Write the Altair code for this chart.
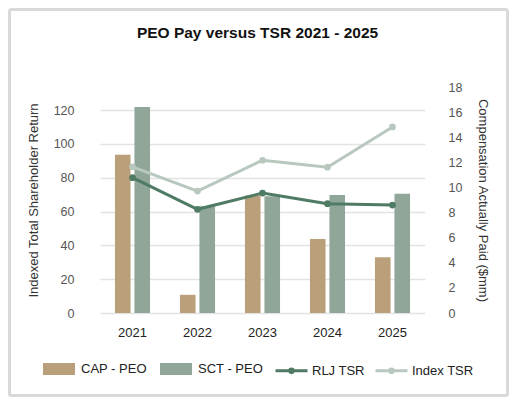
import altair as alt
import pandas as pd

years = ["2021", "2022", "2023", "2024", "2025"]
cap_peo = [12.6, 1.45, 9.35, 5.9, 4.45]
sct_peo = [16.4, 8.5, 9.3, 9.4, 9.5]
rlj_tsr = [80.0, 61.3, 70.9, 64.6, 63.8]
index_tsr = [86.4, 72.1, 90.3, 86.2, 110.0]

bar_series = ["CAP - PEO", "SCT - PEO"]
bar_colors = ["#B9A07A", "#8FA699"]
line_series = ["RLJ TSR", "Index TSR"]
line_colors = ["#4F7B64", "#B8C8BF"]

FONT = "Liberation Sans"
W, H = 325, 226

bars = pd.DataFrame(
    {
        "year": years * 2,
        "series": [bar_series[0]] * 5 + [bar_series[1]] * 5,
        "value": cap_peo + sct_peo,
    }
)
lines = pd.DataFrame(
    {
        "year": years * 2,
        "series": [line_series[0]] * 5 + [line_series[1]] * 5,
        "value": rlj_tsr + index_tsr,
    }
)

rect_symbol = "M-1,-0.375H1V0.375H-1Z"
line_symbol = "M-1,0H1M0.11,0A0.11,0.11,0,1,1,-0.11,0A0.11,0.11,0,1,1,0.11,0"

x_axis = alt.Axis(
    title=None, labelAngle=0, ticks=False, domain=False,
    labelPadding=13, labelFontSize=13, labelColor="#222", labelFont=FONT,
)
x_scale = alt.Scale(paddingInner=0.46, paddingOuter=0.23)

# outer frame round the whole picture
frame = (
    alt.Chart(pd.DataFrame({"a": [0]}))
    .mark_rect(fill="transparent", stroke="#d9d9d9", strokeWidth=3, cornerRadius=2)
    .encode(
        x=alt.value(-90.5), x2=alt.value(W + 82.5),
        y=alt.value(-77.5), y2=alt.value(H + 82.5),
    )
)

bar_chart = (
    alt.Chart(bars)
    .mark_bar()
    .encode(
        x=alt.X("year:N", sort=years, scale=x_scale, axis=x_axis),
        xOffset=alt.XOffset("series:N", sort=bar_series,
                            scale=alt.Scale(paddingInner=0.2)),
        y=alt.Y(
            "value:Q",
            scale=alt.Scale(domain=[0, 18], nice=False),
            axis=alt.Axis(
                orient="right", title="Compensation Actually Paid ($mm)",
                values=list(range(0, 19, 2)), grid=False, ticks=False,
                domain=False, labelPadding=23, labelFontSize=12.5,
                labelColor="#555", labelFont=FONT, titleFont=FONT,
                titleFontSize=13, titleFontWeight="normal", titleColor="#333",
                titlePadding=14,
            ),
        ),
        color=alt.Color(
            "series:N",
            scale=alt.Scale(domain=bar_series, range=bar_colors),
            legend=alt.Legend(
                title=None, orient="none", legendX=-57, legendY=266,
                direction="horizontal", symbolType=rect_symbol,
                symbolSize=1024, symbolStrokeWidth=0, labelOffset=6,
                columnPadding=13, padding=0, labelFontSize=13,
                labelColor="#222", labelFont=FONT,
            ),
        ),
    )
)

line_chart = (
    alt.Chart(lines)
    .mark_line(strokeWidth=3, point=alt.OverlayMarkDef(filled=True, size=45))
    .encode(
        x=alt.X("year:N", sort=years, scale=x_scale, axis=x_axis),
        y=alt.Y(
            "value:Q",
            scale=alt.Scale(domain=[0, 133.6], nice=False),
            axis=alt.Axis(
                orient="left", title="Indexed Total Shareholder Return",
                values=list(range(0, 121, 20)), grid=True, gridColor="#e3e3e3",
                gridWidth=1.5, ticks=False, domain=False, labelPadding=26,
                labelFontSize=12.5, labelColor="#555", labelFont=FONT,
                titleFont=FONT, titleFontSize=13, titleFontWeight="normal",
                titleColor="#333", titlePadding=13,
            ),
        ),
        color=alt.Color(
            "series:N",
            sort=line_series,
            scale=alt.Scale(domain=line_series, range=line_colors),
            legend=alt.Legend(
                title=None, orient="none", legendX=174, legendY=266,
                direction="horizontal", symbolType=line_symbol,
                symbolSize=1024, symbolStrokeWidth=3, labelOffset=3,
                columnPadding=4, padding=0, labelFontSize=13,
                labelColor="#222", labelFont=FONT,
            ),
        ),
    )
)

chart = (
    alt.layer(frame, bar_chart, line_chart)
    .resolve_scale(y="independent", color="independent")
    .properties(
        width=W,
        height=H,
        title=alt.TitleParams(
            "PEO Pay versus TSR 2021 - 2025", font=FONT, fontSize=15.5,
            fontWeight="bold", color="#111", anchor="middle", dx=-5, offset=-33,
        ),
        autosize=alt.AutoSizeParams(type="none"),
        padding={"left": 92, "top": 79, "right": 84, "bottom": 84},
        background="white",
    )
    .configure_view(stroke=None)
)

chart.save("out.html", embed_options={"renderer": "svg", "actions": False})
